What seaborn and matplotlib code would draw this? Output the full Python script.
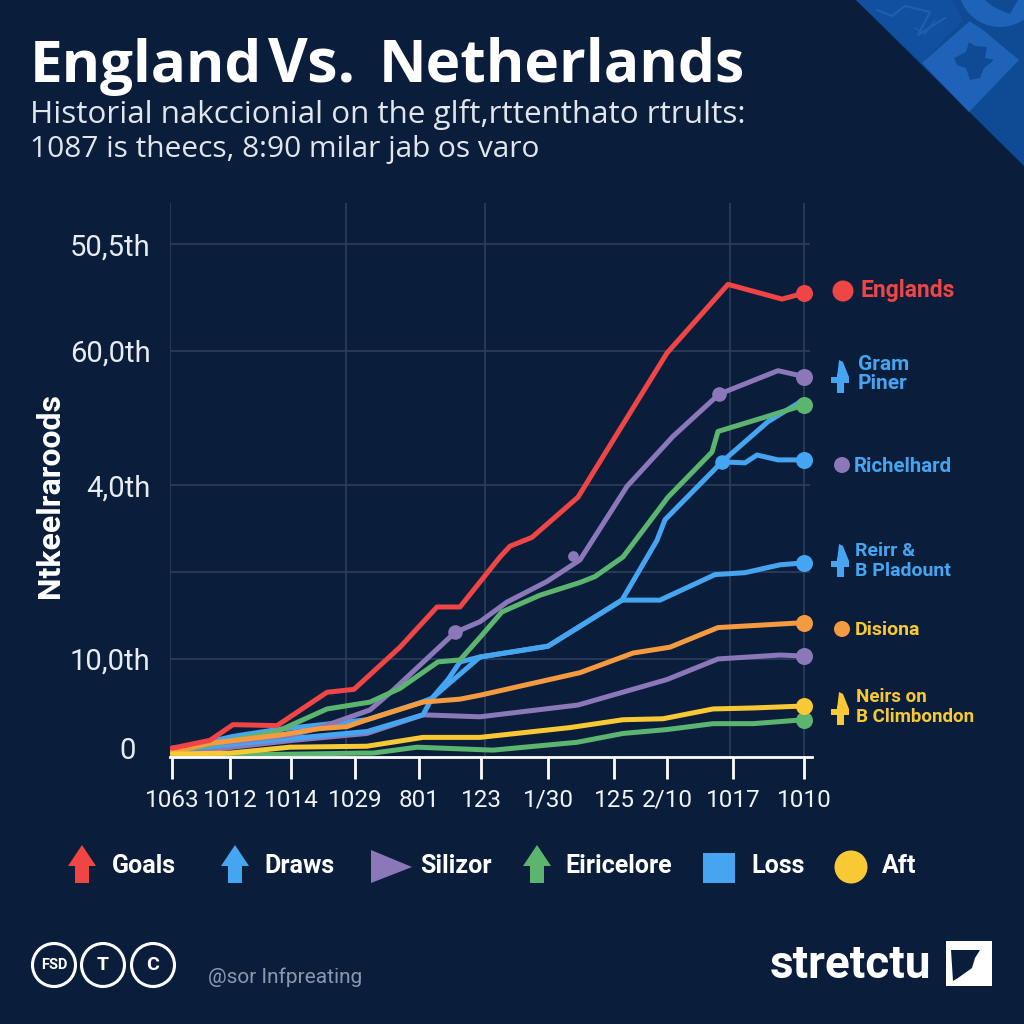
import matplotlib
matplotlib.use("Agg")

import matplotlib.pyplot as plt
import seaborn as sns
from matplotlib.patches import Circle, Polygon, Rectangle

# ===============================
# data
# ===============================
red_x = [0, 3.8, 6.1, 10.5, 15.5, 18.2, 22.8, 26.5, 28.8, 32.8, 33.8, 36, 40.6, 49.5, 55.6, 61, 63.2]
red_y = [0.9, 1.7, 3.3, 3.2, 6.6, 6.9, 11.2, 15.3, 15.3, 20.4, 21.5, 22.4, 26.5, 41.2, 48.2, 46.7, 47.3]

purple_x = [0, 11.8, 14.8, 19.8, 22.1, 28.3, 30.8, 33.5, 37.5, 40.8, 45.5, 50.1, 54.7, 60.6, 63.2]
purple_y = [0.9, 2.2, 3.0, 4.8, 6.8, 12.7, 13.8, 15.8, 17.9, 20.1, 27.6, 32.7, 37, 39.4, 38.8]

green_x = [0, 10.5, 15.5, 19.8, 22.8, 26.6, 28.8, 30.8, 33, 36.8, 40.8, 42.3, 45.1, 49.6, 54, 54.6, 59.1, 63.2]
green_y = [0.5, 2.6, 4.9, 5.6, 7, 9.7, 9.9, 12.2, 14.8, 16.5, 17.8, 18.4, 20.4, 26.5, 31.1, 33.2, 34.6, 35.9]

blue_a_x = [0, 12.1, 19.5, 25.1, 26, 27.6, 28.8, 30.8, 37.6, 45, 48.5, 49.3, 55, 57.3, 58.5, 60.6, 63.2]
blue_a_y = [0.7, 1.9, 2.6, 4.3, 6, 7.9, 9.7, 10.2, 11.3, 16, 22.1, 24.2, 30.1, 30, 30.8, 30.3, 30.3]

blue_b_x = [0, 6.1, 10.5, 19.5, 25, 26, 30.8, 37.6, 45, 48.8, 54.3, 57.3, 60.8, 63.2]
blue_b_y = [0.7, 2.1, 2.8, 3.8, 5.6, 6, 10.2, 11.3, 16, 16, 18.6, 18.8, 19.6, 19.8]

blue_c_x = [55, 59.6, 62.8]
blue_c_y = [30.1, 34.2, 36.2]

orange_x = [0, 3.8, 10.5, 14.8, 17.5, 19.5, 25.1, 28.8, 30.8, 40.8, 46.1, 49.8, 54.6, 63.2]
orange_y = [0.5, 1.4, 2.2, 2.9, 3.1, 3.8, 5.6, 5.9, 6.3, 8.6, 10.6, 11.2, 13.2, 13.7]

purple_low_x = [0, 12.1, 19.5, 25.1, 30.8, 40.6, 49.5, 54.6, 60.8, 63.2]
purple_low_y = [0.3, 1.7, 2.4, 4.3, 4.1, 5.3, 7.9, 10, 10.4, 10.3]

yellow_x = [0, 5.8, 11.8, 19.5, 25.1, 30.8, 39.8, 45.1, 49.1, 54.1, 58.1, 63.2]
yellow_y = [0.3, 0.4, 1, 1.1, 2, 2, 3, 3.8, 3.9, 4.9, 5, 5.2]

green_low_x = [0, 19, 20.1, 24.5, 32.1, 40.5, 45.1, 49.5, 54.1, 58.1, 63.2]
green_low_y = [0.1, 0.4, 0.4, 1, 0.7, 1.5, 2.4, 2.8, 3.4, 3.4, 3.8]

x_ticks = [0, 5.8, 11.9, 18.3, 24.7, 30.9, 37.6, 44.2, 49.5, 56.1, 63.2]
x_labels = ['1063', '1012', '1014', '1029', '801', '123', '1/30', '125', '2/10', '1017', '1010']
x_grid = [-0.2, 17.4, 31.3, 55.8, 63.2]

y_ticks = [0.9, 10, 27.7, 41.4, 52.3]
y_labels = ['0  ', '10,0th', '4,0th', '60,0th', '50,5th']
y_grid = [10, 18.9, 27.7, 41.4, 52.3]

title_parts = ['England', 'Vs.', 'Netherlands']
subtitle_1 = 'Historial nakccionial on the glft,rttenthato rtrults:'
subtitle_2 = '1087 is theecs, 8:90 milar jab os varo'
y_title = 'Ntkeelraroods'
legend_names = ['Goals', 'Draws', 'Silizor', 'Eiricelore', 'Loss', 'Aft']

# ===============================
# colours
# ===============================
BG = '#0A1E3C'
GRID = '#2E3E5A'
RED = '#F04545'
PURPLE = '#8B78B9'
GREEN = '#5CB56F'
BLUE = '#45A5F0'
ORANGE = '#F59B3F'
YELLOW = '#F8C934'

sns.set_theme(style='dark')
plt.rcParams['font.family'] = ['Roboto', 'DejaVu Sans']
OPEN = ['Open Sans']

fig = plt.figure(figsize=(10.24, 10.24), dpi=100, facecolor=BG)

# overlay in pixel coordinates, for the decoration around the chart
deco = fig.add_axes([0, 0, 1, 1])
deco.set_xlim(0, 1024)
deco.set_ylim(1024, 0)
deco.axis('off')

# corner banner
deco.add_patch(Polygon([(856, 0), (1024, 166), (1024, 0)], color='#0F4A94', lw=0))
deco.add_patch(Polygon([(856, 0), (922, 63), (963, 20), (952, 0)], color='#10509F', lw=0))
deco.add_patch(Polygon([(922, 63), (969, 112), (1019, 60), (971, 20)], color='#1F63B8', lw=0))
deco.add_patch(Polygon([(954, 58), (966, 52), (969, 42), (975, 46), (987, 47), (985, 58), (994, 60),
                        (984, 68), (980, 78), (970, 80), (966, 68), (957, 65)], color='#0F4A94', lw=0))
deco.add_patch(Circle((1000, -15), 47, color='#0F4A94', lw=0))
deco.add_patch(Circle((1000, -15), 42, color='#1F63B8', lw=0))
deco.add_patch(Polygon([(985, 0), (1018, 0), (1010, 14), (1000, 10), (992, 6)], color='#0F4A94', lw=0))
deco.plot([877, 892, 905, 930, 918, 945], [10, 16, 6, 12, 35, 18], color='#1F5FB0', lw=1.5)
deco.plot([915, 925, 935], [28, 34, 20], color='#1F5FB0', lw=1)

# title block
deco.text(30, 82, title_parts[0], color='white', fontsize=42, fontweight='bold', family=OPEN, va='baseline')
deco.text(268, 82, title_parts[1], color='white', fontsize=44, fontweight='bold', family=OPEN, va='baseline')
deco.text(379, 82, title_parts[2], color='white', fontsize=42.3, fontweight='bold', family=OPEN, va='baseline')
deco.text(30, 115, subtitle_1, color='#E2E6EC', fontsize=22.6, family=OPEN, va='center')
deco.text(30, 150, subtitle_2, color='#E2E6EC', fontsize=21.5, family=OPEN, va='center')
deco.text(50, 496, y_title, color='white', fontsize=23, fontweight='bold', rotation=90, va='center', ha='center')

# ===============================
# chart
# ===============================
ax = fig.add_axes([170 / 1024, (1024 - 757) / 1024, 642 / 1024, 554 / 1024])
ax.set_facecolor('none')

# gridlines first, not every one sits on a labelled tick
ax.hlines(y_grid, -0.2, 63.8, color=GRID, linewidth=1.2, zorder=1)
ax.vlines(x_grid, 0, 56.5, color=GRID, linewidth=1.2, zorder=1)

series = [
    (blue_c_x, blue_c_y, BLUE),
    (blue_b_x, blue_b_y, BLUE),
    (purple_low_x, purple_low_y, PURPLE),
    (green_low_x, green_low_y, GREEN),
    (blue_a_x, blue_a_y, BLUE),
    (purple_x, purple_y, PURPLE),
    (green_x, green_y, GREEN),
    (orange_x, orange_y, ORANGE),
    (yellow_x, yellow_y, YELLOW),
    (red_x, red_y, RED),
]
for xs, ys, col in series:
    sns.lineplot(x=xs, y=ys, color=col, linewidth=3.6, estimator=None, sort=False, ax=ax)

# end dots and the stray dots along the lines
for xs, ys, col in series:
    if xs is not blue_c_x:
        sns.scatterplot(x=[xs[-1]], y=[ys[-1]], color=col, s=150, linewidth=0, ax=ax, zorder=5, clip_on=False)
sns.scatterplot(x=[purple_x[5], purple_x[12]], y=[purple_y[5], purple_y[12]], color=PURPLE, s=110, linewidth=0, ax=ax, zorder=5)
sns.scatterplot(x=[40.1], y=[20.5], color=PURPLE, s=60, linewidth=0, ax=ax, zorder=5)
sns.scatterplot(x=[blue_a_x[12]], y=[blue_a_y[12]], color=BLUE, s=110, linewidth=0, ax=ax, zorder=5)

ax.set_xlim(-0.2, 64)
ax.set_ylim(0, 56.5)
ax.set_xticks(x_ticks)
ax.set_xticklabels(x_labels, fontsize=17.5, color='#F0F3F7')
ax.set_yticks(y_ticks)
ax.set_yticklabels(y_labels, fontsize=21, color='#E8ECF2')
ax.grid(False)
ax.tick_params(axis='x', which='major', length=16, width=2, color='white', pad=7, bottom=True)
ax.tick_params(axis='y', which='major', length=0, pad=14)
for side in ['top', 'right', 'left']:
    ax.spines[side].set_visible(False)
ax.spines['bottom'].set_color('white')
ax.spines['bottom'].set_linewidth(2)

# ===============================
# labels on the right
# ===============================
def pin_icon(x, y, col):
    deco.add_patch(Rectangle((x - 3.5, y - 3), 7, 19, color=col, lw=0))
    deco.add_patch(Rectangle((x - 9, y), 18, 5.5, color=col, lw=0))
    deco.add_patch(Polygon([(x - 1, y - 17), (x + 3, y - 15), (x + 9, y), (x - 3, y)], color=col, lw=0))


deco.add_patch(Circle((843, 291), 10.5, color=RED, lw=0))
deco.text(860, 291, 'Englands', color=RED, fontsize=16.5, fontweight='bold', va='center')
pin_icon(840, 377, BLUE)
deco.text(858, 374, 'Gram\nPiner', color=BLUE, fontsize=15, fontweight='bold', va='center', linespacing=1.05)
deco.add_patch(Circle((842, 465), 8, color=PURPLE, lw=0))
deco.text(854, 466, 'Richelhard', color=BLUE, fontsize=14.7, fontweight='bold', va='center')
pin_icon(840, 561, BLUE)
deco.text(855, 561, 'Reirr &\nB Pladount', color=BLUE, fontsize=14, fontweight='bold', va='center', linespacing=1.15)
deco.add_patch(Circle((842, 629), 8, color=ORANGE, lw=0))
deco.text(855, 630, 'Disiona', color=YELLOW, fontsize=14, fontweight='bold', va='center')
pin_icon(840, 709, YELLOW)
deco.text(856, 707, 'Neirs on\nB Climbondon', color=YELLOW, fontsize=13.5, fontweight='bold', va='center', linespacing=1.2)

# ===============================
# legend row
# ===============================
def up_arrow(x, col):
    deco.add_patch(Polygon([(x - 7, 883), (x + 7, 883), (x + 7, 866), (x + 14, 866), (x, 845), (x - 14, 866), (x - 7, 866)],
                           color=col, lw=0))


up_arrow(82, RED)
up_arrow(235, BLUE)
deco.add_patch(Polygon([(371, 850), (412, 867), (371, 883)], color=PURPLE, lw=0))
up_arrow(537, GREEN)
deco.add_patch(Rectangle((703, 853), 32, 30, color=BLUE, lw=0))
deco.add_patch(Circle((851, 867), 16.5, color=YELLOW, lw=0))
for name, px in zip(legend_names, [112, 264, 420, 565, 751, 882]):
    deco.text(px, 866, name, color='white', fontsize=18, fontweight='bold', va='center')

# ===============================
# footer
# ===============================
for cx, txt, fs in [(54, 'FSD', 10.5), (103, 'T', 14), (153, 'C', 14)]:
    deco.add_patch(Circle((cx, 965), 21.5, fill=False, ec='white', lw=2.2))
    deco.text(cx, 965, txt, color='white', fontsize=fs, fontweight='bold', ha='center', va='center')
deco.text(208, 977, '@sor Infpreating', color='#8A97AD', fontsize=15, va='center')
deco.text(770, 965, 'stretctu', color='white', fontsize=33, fontweight='bold', va='center')
deco.add_patch(Rectangle((946, 941), 46, 45, color='white', lw=0))
deco.add_patch(Polygon([(951, 950), (980, 950), (975, 958), (972, 968), (958, 978), (953, 981)], color=BG, lw=0))

fig.savefig('out.png', dpi=100, facecolor=BG)
plt.close(fig)
